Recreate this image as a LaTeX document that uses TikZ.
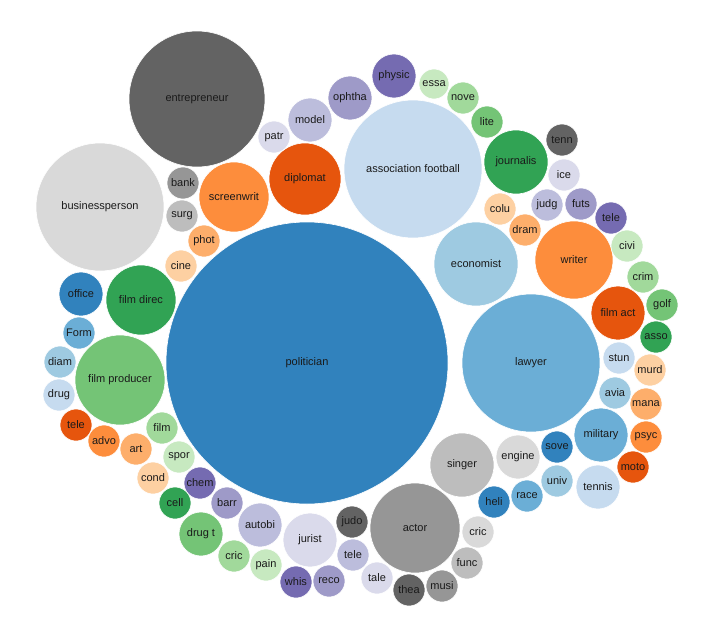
\documentclass[tikz,border=0pt]{standalone}
\usepackage{fontspec}
\setmainfont{Liberation Sans}
\definecolor{a1}{HTML}{3182BD}\definecolor{a2}{HTML}{6BAED6}\definecolor{a3}{HTML}{9ECAE1}\definecolor{a4}{HTML}{C6DBEF}
\definecolor{b1}{HTML}{E6550D}\definecolor{b2}{HTML}{FD8D3C}\definecolor{b3}{HTML}{FDAE6B}\definecolor{b4}{HTML}{FDD0A2}
\definecolor{c1}{HTML}{31A354}\definecolor{c2}{HTML}{74C476}\definecolor{c3}{HTML}{A1D99B}\definecolor{c4}{HTML}{C7E9C0}
\definecolor{d1}{HTML}{756BB1}\definecolor{d2}{HTML}{9E9AC8}\definecolor{d3}{HTML}{BCBDDC}\definecolor{d4}{HTML}{DADAEB}
\definecolor{e1}{HTML}{636363}\definecolor{e2}{HTML}{969696}\definecolor{e3}{HTML}{BDBDBD}\definecolor{e4}{HTML}{D9D9D9}
\definecolor{txt}{HTML}{1A1A1A}
\newcommand\bub[6]{\node[bubble,fill=#5,minimum size=#4*2pt] (#1) at (#2,#3) {#6};}
\begin{document}
\begin{tikzpicture}[x=1pt,y=-1pt,
  bubble/.style={circle,inner sep=0pt,draw=white,line width=0.6pt,text=txt,font=\fontsize{11}{13}\selectfont}]
\useasboundingbox (0,0) rectangle (710,632);
\bub{politician}{307}{363}{141}{a1}{politician}
\bub{entrepreneur}{197}{99}{68}{e1}{entrepreneur}
\bub{businessperson}{100}{207}{64}{e4}{businessperson}
\bub{assoc}{413}{169}{69}{a4}{association football}
\bub{lawyer}{531}{363}{69}{a2}{lawyer}
\bub{economist}{476}{264}{42}{a3}{economist}
\bub{writer}{574}{260}{39}{b2}{writer}
\bub{journalis}{516}{162}{32}{c1}{journalis}
\bub{filmprod}{120}{380}{45}{c2}{film producer}
\bub{filmdirec}{141}{300}{35}{c1}{film direc}
\bub{actor}{415}{528}{45}{e2}{actor}
\bub{singer}{462}{465}{32}{e3}{singer}
\bub{diplomat}{305}{179}{36}{b1}{diplomat}
\bub{screenwrit}{234}{197}{35}{b2}{screenwrit}
\bub{military}{601}{435}{27}{a2}{military}
\bub{tennis}{598}{487}{22}{a4}{tennis}
\bub{engine}{518}{457}{22}{e4}{engine}
\bub{jurist}{310}{540}{27}{d4}{jurist}
\bub{autobi}{260}{525}{22}{d3}{autobi}
\bub{drugt}{201}{534}{22}{c2}{drug t}
\bub{filmact}{618}{313}{27}{b1}{film act}
\bub{model}{310}{120}{22}{d3}{model}
\bub{ophtha}{350}{98}{22}{d2}{ophtha}
\bub{physic}{394}{76}{22}{d1}{physic}
\bub{office}{81}{294}{22}{a1}{office}
\bub{essa}{434}{84}{15}{c4}{essa}
\bub{nove}{463}{98}{16}{c3}{nove}
\bub{lite}{487}{122}{16}{c2}{lite}
\bub{tenn}{562}{140}{16}{e1}{tenn}
\bub{ice}{564}{175}{16}{d4}{ice}
\bub{judg}{547}{205}{16}{d3}{judg}
\bub{futs}{581}{204}{16}{d2}{futs}
\bub{teleA}{611}{218}{16}{d1}{tele}
\bub{colu}{500}{209}{16}{b4}{colu}
\bub{dram}{525}{230}{16}{b3}{dram}
\bub{civi}{627}{246}{16}{c4}{civi}
\bub{crim}{643}{277}{16}{c3}{crim}
\bub{golf}{662}{305}{16}{c2}{golf}
\bub{asso}{656}{337}{16}{c1}{asso}
\bub{stun}{619}{358}{16}{a4}{stun}
\bub{murd}{650}{370}{16}{b4}{murd}
\bub{avia}{615}{393}{16}{a3}{avia}
\bub{mana}{646}{404}{16}{b3}{mana}
\bub{psyc}{646}{437}{16}{b2}{psyc}
\bub{moto}{633}{467}{16}{b1}{moto}
\bub{sove}{557}{447}{16}{a1}{sove}
\bub{univ}{557}{481}{16}{a3}{univ}
\bub{race}{527}{496}{16}{a2}{race}
\bub{heli}{494}{502}{16}{a1}{heli}
\bub{cricA}{478}{532}{16}{e4}{cric}
\bub{func}{467}{563}{16}{e3}{func}
\bub{musi}{442}{586}{16}{e2}{musi}
\bub{thea}{409}{590}{16}{e1}{thea}
\bub{tale}{377}{578}{16}{d4}{tale}
\bub{teleB}{353}{555}{16}{d3}{tele}
\bub{judo}{352}{522}{16}{e1}{judo}
\bub{reco}{329}{581}{16}{d2}{reco}
\bub{whis}{296}{582}{16}{d1}{whis}
\bub{pain}{266}{565}{16}{c4}{pain}
\bub{cricB}{234}{556}{16}{c3}{cric}
\bub{barr}{227}{503}{16}{d2}{barr}
\bub{chem}{200}{483}{16}{d1}{chem}
\bub{cell}{175}{503}{16}{c1}{cell}
\bub{cond}{153}{478}{16}{b4}{cond}
\bub{spor}{179}{457}{16}{c4}{spor}
\bub{film}{162}{428}{16}{c3}{film}
\bub{art}{136}{449}{16}{b3}{art}
\bub{advo}{104}{441}{16}{b2}{advo}
\bub{teleC}{76}{425}{16}{b1}{tele}
\bub{drug}{59}{395}{16}{a4}{drug}
\bub{diam}{60}{362}{16}{a3}{diam}
\bub{Form}{79}{333}{16}{a2}{Form}
\bub{bank}{183}{183}{16}{e2}{bank}
\bub{surg}{182}{216}{16}{e3}{surg}
\bub{phot}{204}{241}{16}{b3}{phot}
\bub{cine}{181}{266}{16}{b4}{cine}
\bub{patr}{274}{137}{16}{d4}{patr}
\end{tikzpicture}
\end{document}
